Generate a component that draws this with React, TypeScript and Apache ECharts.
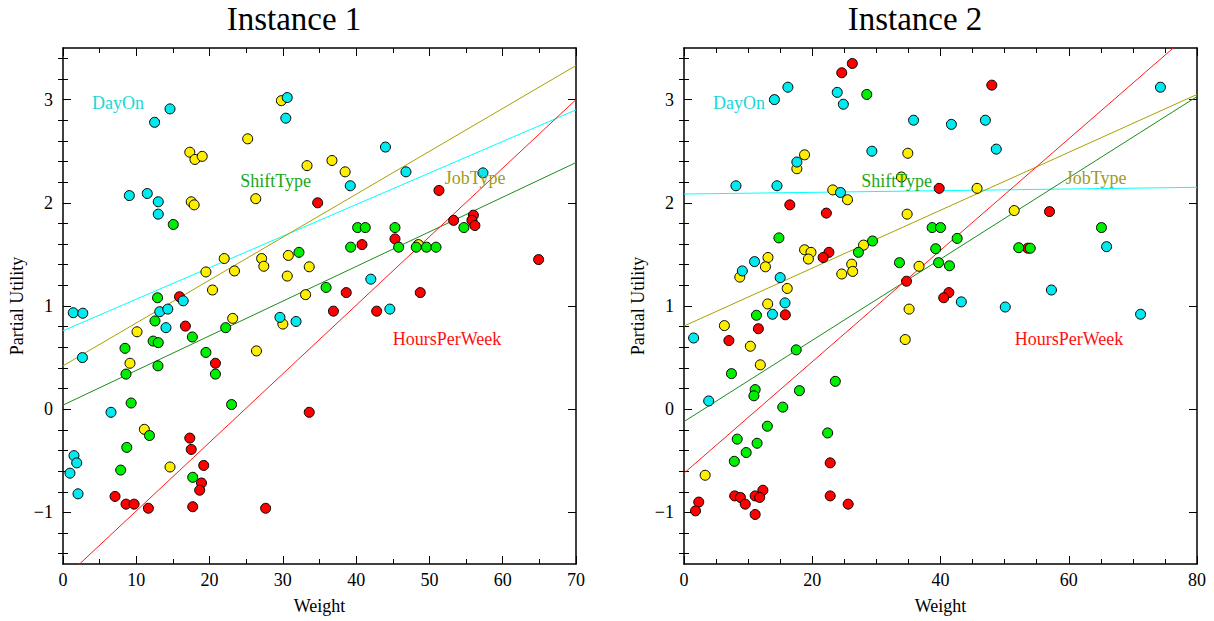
import React, { useEffect, useRef } from "react";
import * as echarts from "echarts";

const FONT = '"Liberation Serif", "Times New Roman", serif';

// ---------- Instance 1 (x: Weight 0..70) ----------
const dayOn1 = [
  [14.6, 2.91], [12.5, 2.78], [30.6, 3.02], [30.4, 2.82], [9.05, 2.07], [11.5, 2.09], [13.0, 2.01],
  [13.0, 1.89], [16.4, 1.05], [13.2, 0.945], [14.3, 0.97], [44.0, 2.54], [39.2, 2.165], [46.8, 2.3],
  [57.3, 2.29], [42.0, 1.26], [44.6, 0.97], [1.4, 0.935], [2.7, 0.93], [14.05, 0.79], [29.6, 0.89],
  [31.8, 0.85], [2.65, 0.5], [6.55, -0.03], [1.5, -0.45], [1.87, -0.52], [0.95, -0.62], [2.05, -0.82],
];
const jobType1 = [
  [29.8, 2.99], [25.2, 2.62], [17.3, 2.49], [18.0, 2.42], [19.0, 2.45], [33.3, 2.36], [17.5, 2.01],
  [17.9, 1.98], [26.3, 2.04], [22.0, 1.46], [27.1, 1.46], [27.4, 1.385], [30.75, 1.49], [33.6, 1.38],
  [19.5, 1.33], [23.4, 1.34], [30.6, 1.29], [20.4, 1.155], [33.1, 1.11], [36.7, 2.41], [38.5, 2.3],
  [48.5, 1.595], [10.1, 0.75], [23.15, 0.88], [30.0, 0.825], [26.4, 0.565], [9.14, 0.445],
  [11.1, -0.195], [14.6, -0.56],
];
const shiftType1 = [
  [15.05, 1.79], [32.2, 1.52], [12.9, 1.08], [54.7, 1.76], [40.2, 1.76], [41.25, 1.76], [45.3, 1.76],
  [39.25, 1.57], [45.8, 1.57], [48.2, 1.57], [49.6, 1.57], [50.9, 1.57], [35.9, 1.18], [12.55, 0.855],
  [17.65, 0.7], [22.2, 0.79], [12.3, 0.66], [13.0, 0.645], [8.46, 0.59], [19.5, 0.55], [12.96, 0.42],
  [8.6, 0.34], [20.8, 0.34], [9.3, 0.06], [23.0, 0.045], [11.8, -0.255], [8.7, -0.37], [7.87, -0.59],
  [17.7, -0.66],
];
const hours1 = [
  [34.75, 2.0], [15.9, 1.09], [51.3, 2.12], [53.3, 1.83], [56.0, 1.88], [55.8, 1.83], [56.2, 1.78],
  [45.3, 1.65], [40.8, 1.595], [38.65, 1.13], [48.75, 1.13], [64.9, 1.45], [36.9, 0.95], [42.8, 0.95],
  [33.6, -0.03], [16.7, 0.805], [20.8, 0.445], [17.3, -0.28], [17.5, -0.39], [19.2, -0.545],
  [18.9, -0.715], [18.65, -0.785], [7.1, -0.845], [8.6, -0.92], [9.7, -0.92], [11.65, -0.96],
  [17.7, -0.945], [27.65, -0.96],
];
const dayOnFit1 = [[0, 0.76], [70, 2.9]];
const jobTypeFit1 = [[0, 0.42], [70, 3.33]];
const shiftTypeFit1 = [[0, 0.04], [70, 2.39]];
const hoursFit1 = [[0, -1.65], [70, 3.0]];

// ---------- Instance 2 (x: Weight 0..80) ----------
const dayOn2 = [
  [16.2, 3.12], [14.1, 3.0], [23.9, 3.07], [24.85, 2.955], [35.8, 2.8], [29.3, 2.5], [17.6, 2.395],
  [8.1, 2.165], [14.5, 2.165], [24.4, 2.1], [11.0, 1.43], [9.1, 1.34], [15.0, 1.275], [15.75, 1.03],
  [74.3, 3.12], [41.7, 2.76], [47.0, 2.8], [48.7, 2.52], [65.9, 1.575], [43.25, 1.04], [57.3, 1.155],
  [50.1, 0.99], [71.2, 0.92], [13.8, 0.92], [1.5, 0.69], [3.85, 0.08],
];
const jobType2 = [
  [34.9, 2.48], [18.8, 2.465], [17.6, 2.33], [23.2, 2.125], [25.5, 2.03], [33.9, 2.25], [34.8, 1.89],
  [28.0, 1.59], [18.8, 1.545], [19.8, 1.52], [19.4, 1.455], [13.1, 1.47], [12.7, 1.38], [8.7, 1.28],
  [26.15, 1.405], [26.3, 1.335], [24.6, 1.31], [36.65, 1.385], [16.1, 1.17], [13.05, 1.02],
  [35.1, 0.97], [45.7, 2.14], [51.5, 1.925], [6.3, 0.81], [34.5, 0.675], [10.35, 0.61], [11.9, 0.43],
  [3.3, -0.64],
];
const shiftType2 = [
  [28.5, 3.05], [14.8, 1.66], [29.4, 1.63], [27.2, 1.52], [33.6, 1.42], [38.7, 1.76], [40.0, 1.76],
  [65.1, 1.76], [42.6, 1.655], [39.25, 1.555], [52.2, 1.565], [54.0, 1.56], [39.7, 1.42], [41.4, 1.39],
  [11.3, 0.91], [17.5, 0.575], [7.4, 0.345], [23.6, 0.27], [18.0, 0.18], [11.1, 0.19], [10.9, 0.13],
  [15.4, 0.02], [13.0, -0.165], [22.4, -0.23], [8.3, -0.29], [11.4, -0.33], [9.7, -0.42],
  [7.85, -0.505],
];
const hours2 = [
  [26.25, 3.35], [24.6, 3.26], [16.5, 1.98], [22.2, 1.9], [39.8, 2.14], [22.6, 1.52], [21.7, 1.47],
  [34.7, 1.24], [48.0, 3.14], [57.0, 1.915], [53.6, 1.56], [41.3, 1.13], [40.5, 1.08], [15.8, 0.915],
  [11.6, 0.78], [7.0, 0.665], [22.8, -0.52], [12.3, -0.785], [7.9, -0.84], [8.8, -0.855], [11.1, -0.84],
  [11.8, -0.855], [22.8, -0.84], [9.55, -0.92], [25.6, -0.92], [2.3, -0.9], [1.8, -0.985], [11.1, -1.02],
];
const dayOnFit2 = [[0, 2.085], [80, 2.15]];
const jobTypeFit2 = [[0, 0.806], [80, 3.05]];
const shiftTypeFit2 = [[0, -0.12], [80, 3.03]];
const hoursFit2 = [[0, -0.62], [80, 3.7]];

const yMajorTicks = [-1, 0, 1, 2, 3];
const titles = ["Instance 1", "Instance 2"];
const factorNames = ["DayOn", "ShiftType", "JobType", "HoursPerWeek"];

const COL = {
  dayOnPt: "#00eaf0",
  jobPt: "#ffee00",
  shiftPt: "#00ee00",
  hoursPt: "#ff0000",
  dayOnLine: "#00ffff",
  jobLine: "#aaa000",
  shiftLine: "#1a8c1a",
  hoursLine: "#ff1a1a",
  dayOnText: "#1ad6d6",
  shiftText: "#1aa81a",
  jobText: "#a09a1a",
  hoursText: "#ff1010",
};

export default function App() {
  const ref = useRef<HTMLDivElement>(null);
  useEffect(() => {
    if (!ref.current) return;
    const chart = echarts.init(ref.current, undefined, { renderer: "svg" });

    const yMinorTicks: number[] = [];
    for (let i = -7; i <= 17; i++) if (i % 5 !== 0) yMinorTicks.push(Math.round(i * 20) / 100);

    const grids = [
      { left: 63, top: 48, width: 513, height: 516 },
      { left: 684, top: 48, width: 513, height: 516 },
    ];
    const black = { color: "#000", width: 1 };
    const frame = { color: "#000", width: 1.5 };
    const fmtY = (v: number) => (v < 0 ? "\u2212" + Math.abs(v) : String(v));

    const xCfg = [
      { max: 70, interval: 10, split: 2 },
      { max: 80, interval: 20, split: 4 },
    ];
    const xAxis: any[] = [];
    const yAxis: any[] = [];
    grids.forEach((_, g) => {
      const c = xCfg[g];
      ["bottom", "top"].forEach((pos) => {
        xAxis.push({
          type: "value",
          gridIndex: g,
          position: pos,
          min: 0,
          max: c.max,
          interval: c.interval,
          name: pos === "bottom" ? "Weight" : "",
          nameLocation: "middle",
          nameGap: 33,
          nameTextStyle: { fontFamily: FONT, fontSize: 18, color: "#000" },
          axisLine: { show: true, onZero: false, lineStyle: frame },
          axisTick: { show: true, inside: true, length: 8, lineStyle: black },
          minorTick: { show: true, splitNumber: c.split, length: 5, lineStyle: black },
          axisLabel: {
            show: pos === "bottom",
            margin: 7,
            fontFamily: FONT,
            fontSize: 18,
            color: "#000",
          },
          splitLine: { show: false },
          minorSplitLine: { show: false },
        });
      });
      ["left", "right"].forEach((pos) => {
        yAxis.push({
          type: "value",
          gridIndex: g,
          position: pos,
          min: -1.5,
          max: 3.5,
          name: pos === "left" ? "Partial Utility" : "",
          nameLocation: "middle",
          nameGap: 37,
          nameRotate: 90,
          nameTextStyle: { fontFamily: FONT, fontSize: 18, color: "#000" },
          axisLine: { show: true, onZero: false, lineStyle: frame },
          axisTick: { show: true, inside: true, length: 8, lineStyle: black, customValues: yMajorTicks },
          axisLabel: {
            show: pos === "left",
            customValues: yMajorTicks,
            formatter: fmtY,
            margin: 10,
            fontFamily: FONT,
            fontSize: 18,
            color: "#000",
          },
          splitLine: { show: false },
        });
        yAxis.push({
          type: "value",
          gridIndex: g,
          position: pos,
          min: -1.5,
          max: 3.5,
          axisLine: { show: false },
          axisTick: { show: true, inside: true, length: 5, lineStyle: black, customValues: yMinorTicks },
          axisLabel: { show: false, customValues: yMinorTicks },
          splitLine: { show: false },
        });
      });
    });

    const lineSeries = (data: number[][], color: string, g: number) => ({
      type: "line",
      xAxisIndex: g * 2,
      yAxisIndex: g * 4,
      data,
      symbol: "none",
      clip: true,
      lineStyle: { color, width: 1 },
      z: 2,
      silent: true,
    });
    const scatterSeries = (data: number[][], color: string, g: number, z: number) => ({
      type: "scatter",
      xAxisIndex: g * 2,
      yAxisIndex: g * 4,
      data,
      symbol: "circle",
      symbolSize: 10,
      itemStyle: { color, borderColor: "#000", borderWidth: 1, opacity: 1 },
      z,
    });

    const panels = [
      { d: [dayOn1, jobType1, shiftType1, hours1], f: [dayOnFit1, jobTypeFit1, shiftTypeFit1, hoursFit1] },
      { d: [dayOn2, jobType2, shiftType2, hours2], f: [dayOnFit2, jobTypeFit2, shiftTypeFit2, hoursFit2] },
    ];
    const series: any[] = [];
    panels.forEach((p, g) => {
      series.push(lineSeries(p.f[0], COL.dayOnLine, g));
      series.push(lineSeries(p.f[1], COL.jobLine, g));
      series.push(lineSeries(p.f[2], COL.shiftLine, g));
      series.push(lineSeries(p.f[3], COL.hoursLine, g));
      series.push(scatterSeries(p.d[3], COL.hoursPt, g, 3));
      series.push(scatterSeries(p.d[1], COL.jobPt, g, 4));
      series.push(scatterSeries(p.d[2], COL.shiftPt, g, 5));
      series.push(scatterSeries(p.d[0], COL.dayOnPt, g, 6));
    });

    const labelPos = [
      [[118, 103], [275.5, 181], [475, 178], [447, 339]],
      [[739, 103], [896.5, 181], [1096, 178], [1069, 339]],
    ];
    const labelColors = [COL.dayOnText, COL.shiftText, COL.jobText, COL.hoursText];
    const graphic: any[] = [];
    labelPos.forEach((pp) => {
      pp.forEach((xy, i) => {
        graphic.push({
          type: "text",
          x: xy[0],
          y: xy[1],
          z: 10,
          style: {
            text: factorNames[i],
            fill: labelColors[i],
            font: `18px ${FONT}`,
            textAlign: "center",
            textVerticalAlign: "middle",
          },
        });
      });
    });

    const titleStyle = { fontFamily: FONT, fontSize: 33, fontWeight: "normal", color: "#000" };
    chart.setOption({
      animation: false,
      backgroundColor: "#fff",
      title: [
        { text: titles[0], left: 289, top: -3, textAlign: "center", textStyle: titleStyle },
        { text: titles[1], left: 910, top: -3, textAlign: "center", textStyle: titleStyle },
      ],
      grid: grids,
      xAxis,
      yAxis,
      series,
      graphic,
    });
    return () => chart.dispose();
  }, []);
  return (
    <div
      ref={ref}
      style={{ position: "fixed", left: 0, top: 0, width: 1214, height: 621 }}
    />
  );
}
